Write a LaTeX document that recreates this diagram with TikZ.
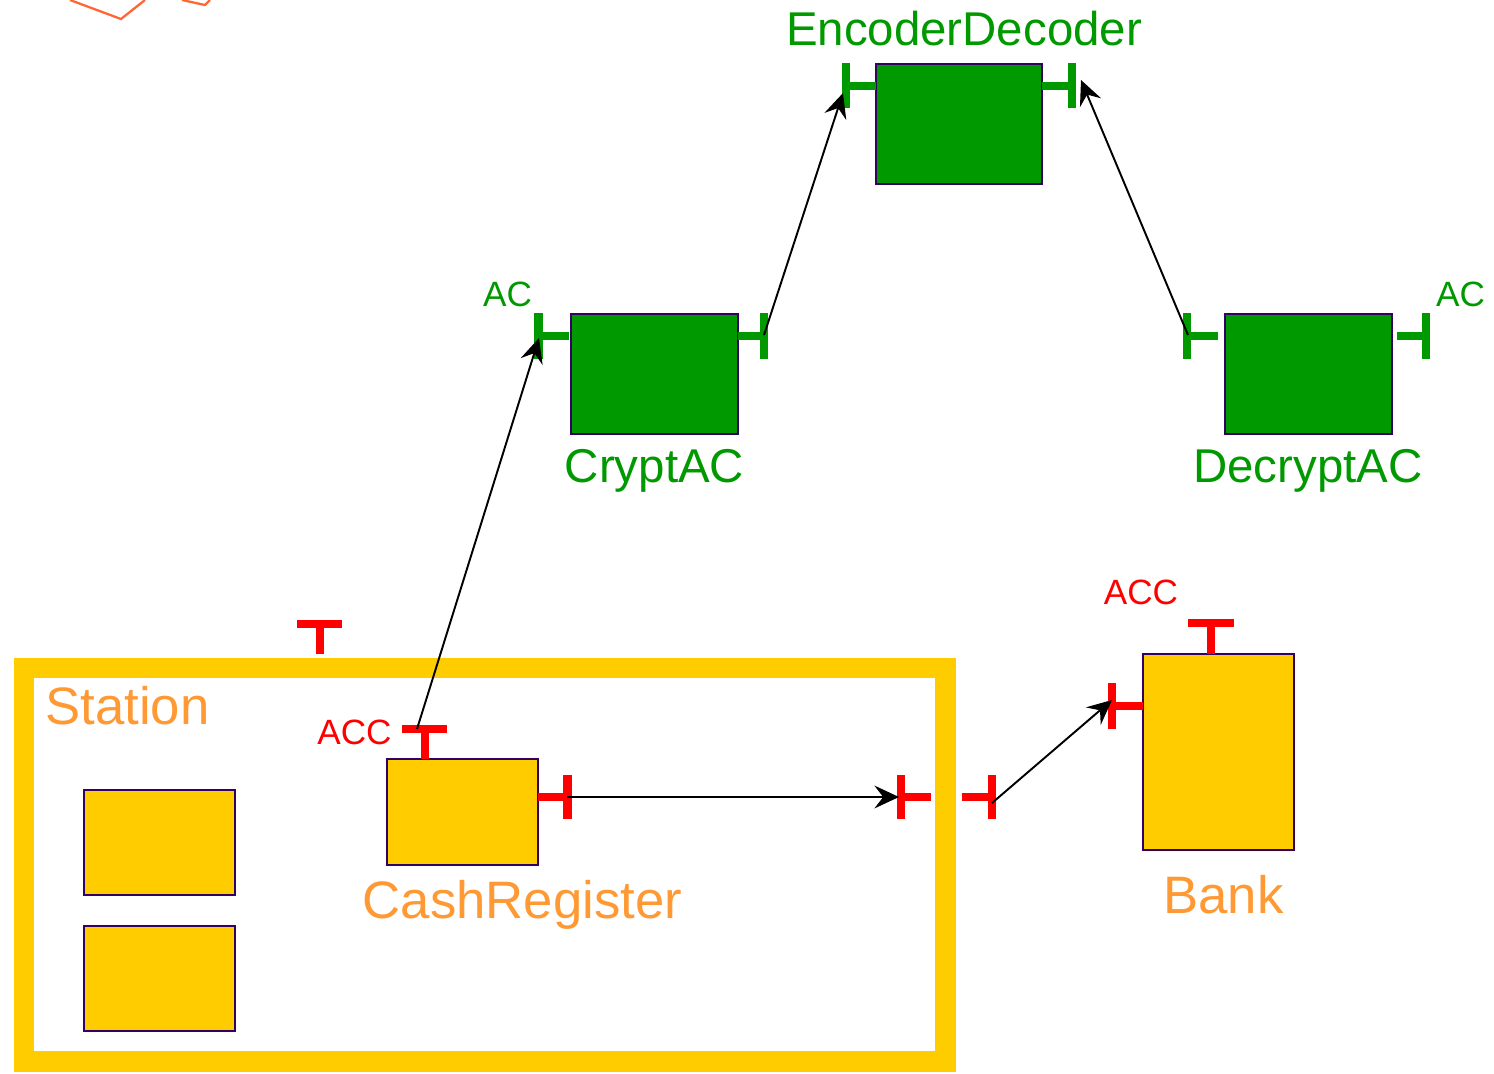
\documentclass[tikz,border=0pt]{standalone}
\usepackage{fontspec}
\setmainfont{Liberation Sans}
\usetikzlibrary{arrows.meta}
\definecolor{boxyellow}{HTML}{FFCC00}
\definecolor{boxgreen}{HTML}{009900}
\definecolor{edgepurple}{HTML}{330066}
\definecolor{labelorange}{HTML}{FF9933}
\definecolor{portred}{HTML}{FF0000}
\definecolor{sketchorange}{HTML}{FF6633}
\tikzset{
  part/.style={draw=edgepurple, line width=1.1pt, inner sep=0pt, outer sep=0pt, anchor=north west},
  ypart/.style={part, fill=boxyellow, minimum width=3.02cm},
  gpart/.style={part, fill=boxgreen, minimum width=3.34cm, minimum height=2.4cm},
  rport/.style={draw=portred, line width=4.6pt},
  gport/.style={draw=boxgreen, line width=4.6pt},
  biglabel/.style={anchor=base, inner sep=0pt, font=\fontsize{30pt}{31pt}\selectfont},
  midlabel/.style={anchor=base, inner sep=0pt, font=\fontsize{27pt}{28pt}\selectfont},
  portlabel/.style={anchor=base, inner sep=0pt, font=\fontsize{20pt}{21pt}\selectfont},
  conn/.style={draw=black, line width=1.1pt, -{Stealth[length=14pt, width=13pt, inset=5pt]}},
}
\begin{document}
\begin{tikzpicture}[x=0.02cm, y=-0.02cm]
\useasboundingbox (0,0) rectangle (1494,1073);

% partial orange outline at the top edge
\draw[sketchorange, line width=1.3pt, line join=miter] (70,0) -- (121,19) -- (145,0);
\draw[sketchorange, line width=1.3pt, line join=miter] (182,0) -- (205,5) -- (210,0);

% Station composite frame
\node[draw=boxyellow, line width=11.9pt, inner sep=0pt, outer sep=0pt, anchor=north west,
      minimum width=18.44cm, minimum height=7.88cm] (station) at (24,668) {};
\node[biglabel, anchor=base west, text=labelorange] (stationlbl) at (45,724) {Station};

% parts inside the station
\node[ypart, minimum height=2.1cm] (inner1) at (84,790) {};
\node[ypart, minimum height=2.1cm] (inner2) at (84,926) {};
\node[ypart, minimum height=2.12cm] (cash) at (387,759) {};
\node[biglabel, text=labelorange] (cashlbl) at (522.5,918) {CashRegister};

% bank
\node[ypart, minimum height=3.92cm] (bank) at (1143,654) {};
\node[biglabel, text=labelorange] (banklbl) at (1223.5,913) {Bank};

% green components
\node[gpart] (crypt) at (571,314) {};
\node[midlabel, text=boxgreen] (cryptlbl) at (654.5,482) {CryptAC};
\node[gpart, minimum width=3.32cm] (encdec) at (876,64) {};
\node[midlabel, text=boxgreen] (encdeclbl) at (964,45) {EncoderDecoder};
\node[gpart] (decrypt) at (1225,314) {};
\node[midlabel, text=boxgreen] (decryptlbl) at (1308,482) {DecryptAC};

% red ports
\draw[rport] (297,624) -- (342,624) (320,624) -- (320,654);             % station top
\draw[rport] (402,729) -- (447,729) (425,729) -- (425,759);             % cash register top
\draw[rport] (538,797) -- (568,797) (567.5,775) -- (567.5,819);         % cash register right
\draw[rport] (901,797) -- (931,797) (901,775) -- (901,819);             % station inner right
\draw[rport] (962,797) -- (992,797) (992,775) -- (992,819);             % station outer right
\draw[rport] (1188,623) -- (1234,623) (1211,623) -- (1211,654);         % bank top
\draw[rport] (1112,706) -- (1143,706) (1112,683) -- (1112,729);         % bank left

\node[portlabel, text=portred] (acccash) at (354.5,744) {ACC};
\node[portlabel, text=portred] (accbank) at (1141,604) {ACC};

% green ports
\draw[gport] (538.5,336) -- (569,336) (538.5,313) -- (538.5,359);       % crypt left
\draw[gport] (738,336) -- (764,336) (764,313) -- (764,359);             % crypt right
\draw[gport] (846,86) -- (876,86) (846,63) -- (846,108);                % encdec left
\draw[gport] (1042,86) -- (1072,86) (1072,63) -- (1072,108);            % encdec right
\draw[gport] (1187,336) -- (1218,336) (1187,313) -- (1187,359);         % decrypt left
\draw[gport] (1397,336) -- (1426,336) (1426,313) -- (1426,359);         % decrypt right

\node[portlabel, text=boxgreen] (acl) at (507.5,306) {AC};
\node[portlabel, text=boxgreen] (acr) at (1460.5,306) {AC};

% connector end points on the ports
\coordinate (cashtop) at (417,729);
\coordinate (cryptin) at (539,338);
\coordinate (cryptout) at (764,335);
\coordinate (encin) at (843,93);
\coordinate (decout) at (1188,335);
\coordinate (encout) at (1081,80);
\coordinate (cashout) at (567,797);
\coordinate (stationin) at (899,797);
\coordinate (stationout) at (992,803);
\coordinate (bankin) at (1112,700);

% connectors
\draw[conn] (cashtop) -- (cryptin);
\draw[conn] (cryptout) -- (encin);
\draw[conn] (decout) -- (encout);
\draw[conn] (cashout) -- (stationin);
\draw[conn] (stationout) -- (bankin);
\end{tikzpicture}
\end{document}
